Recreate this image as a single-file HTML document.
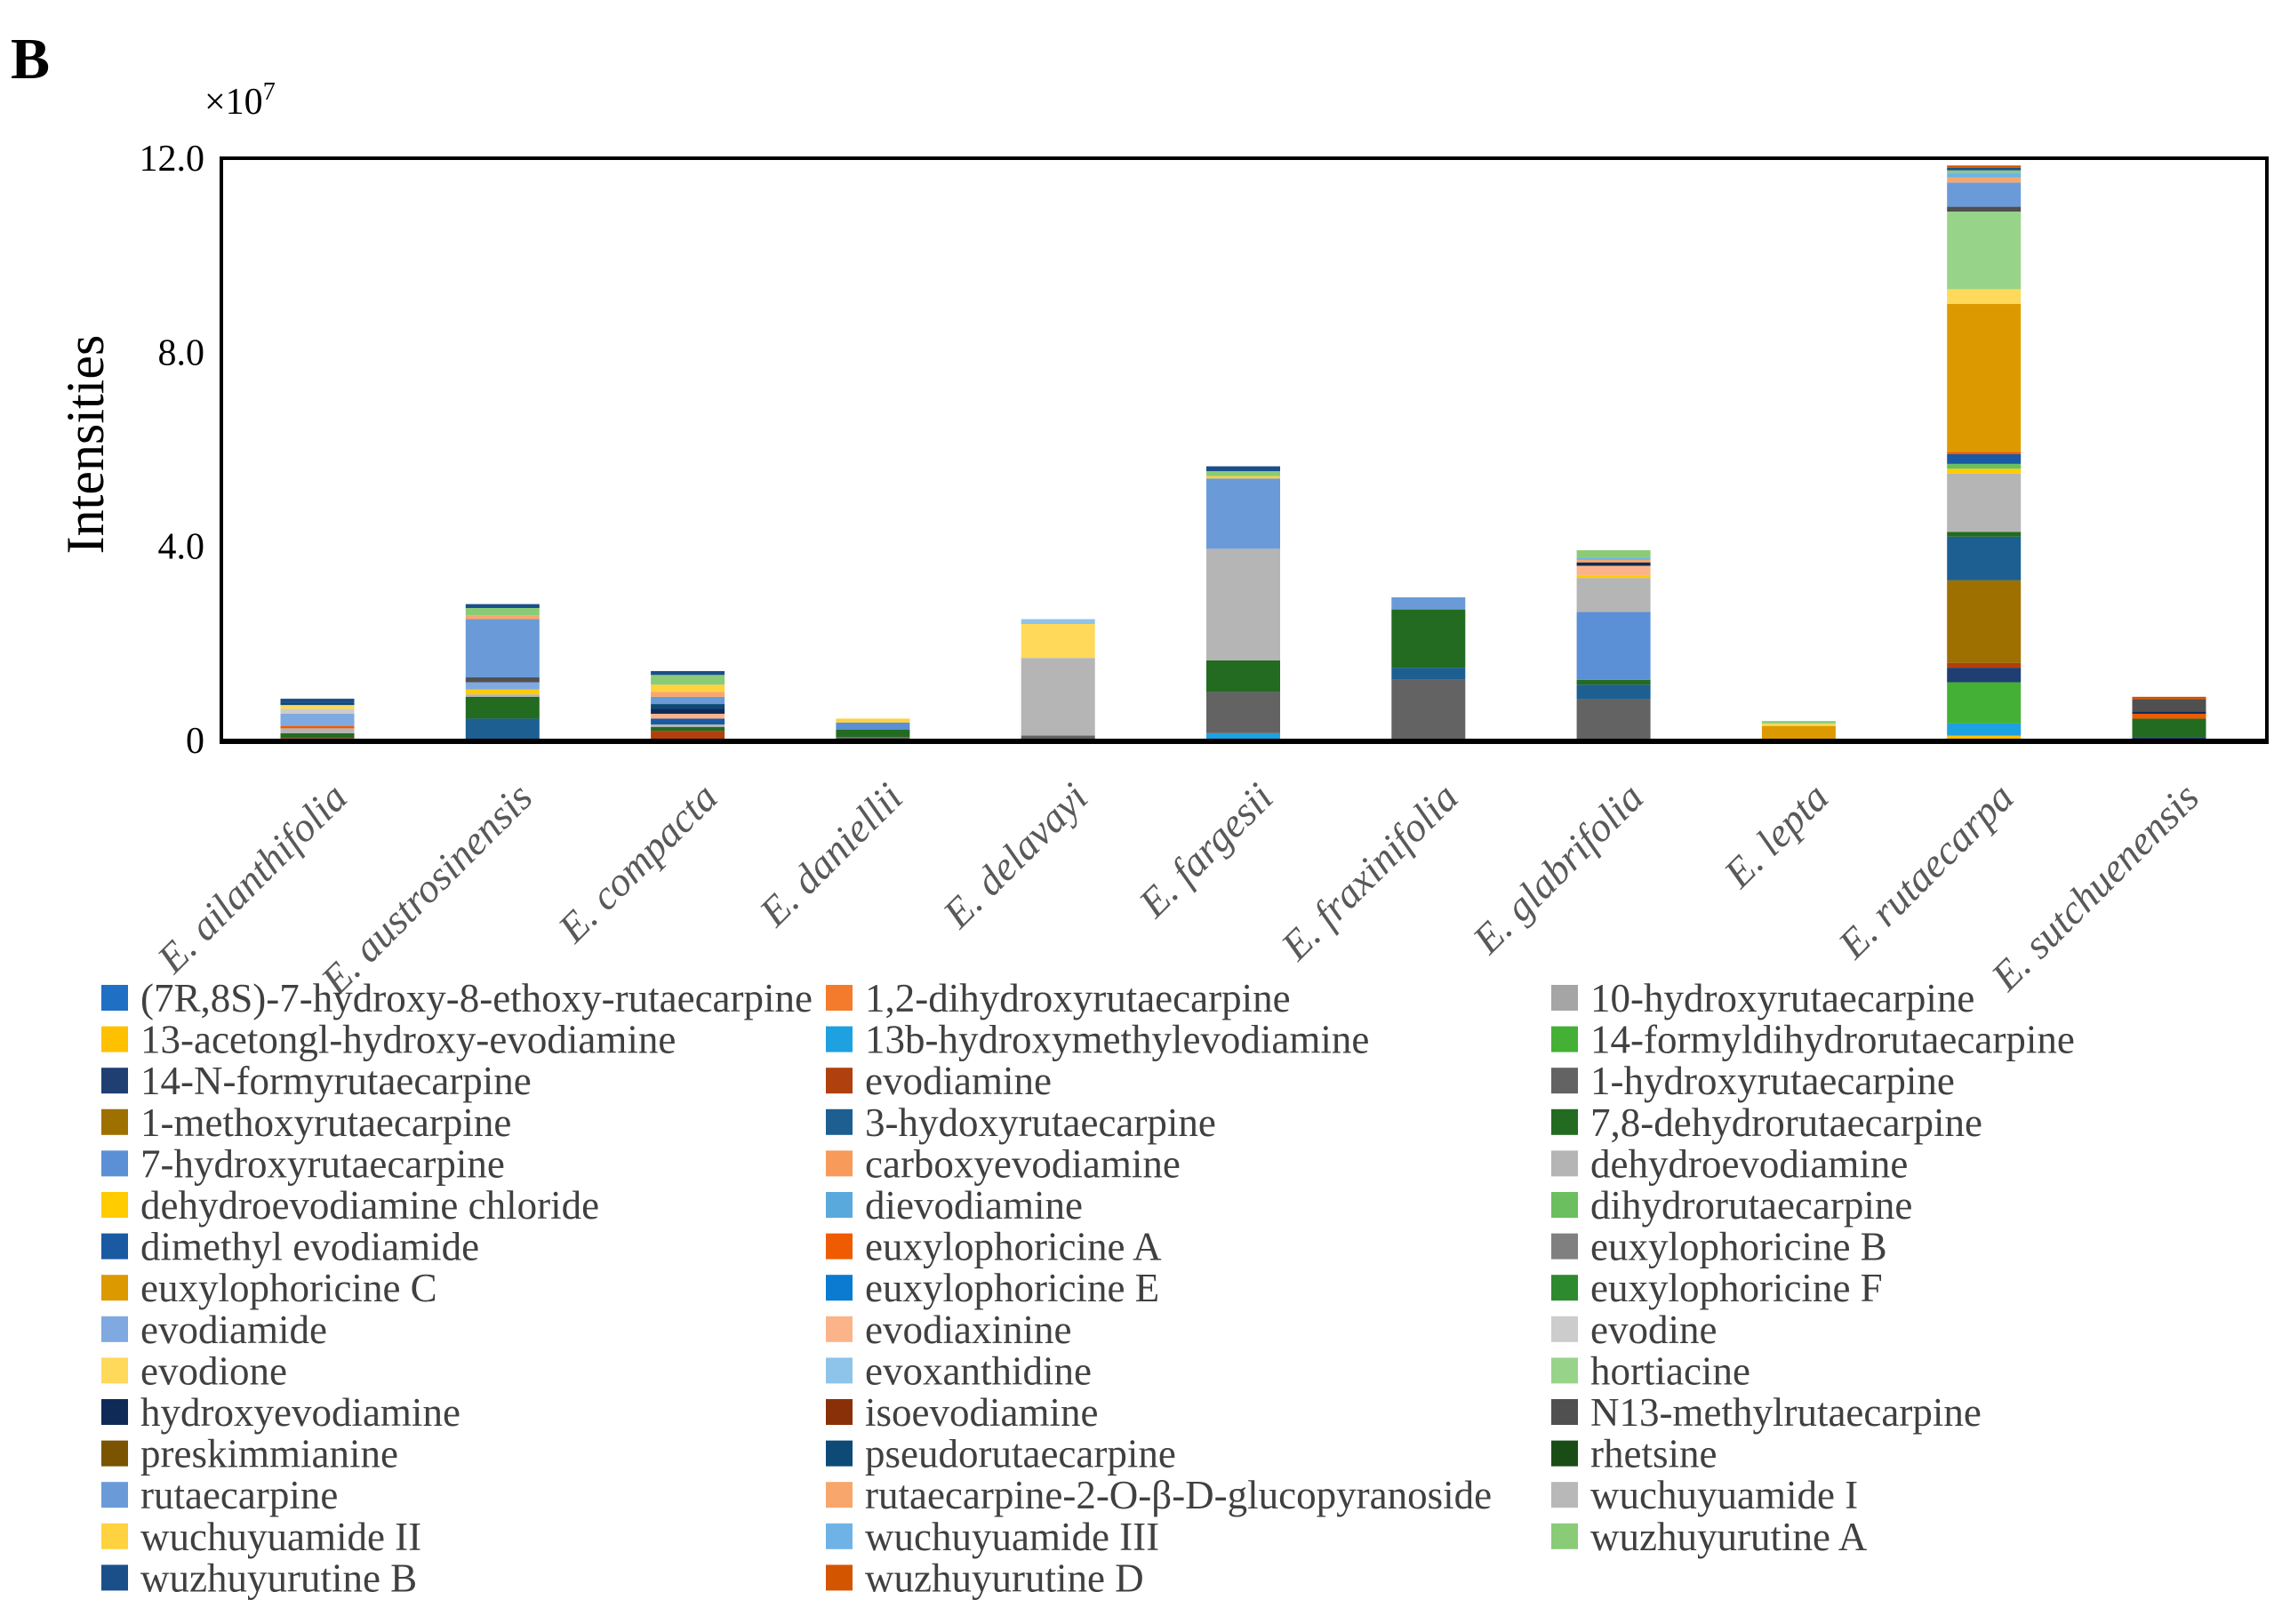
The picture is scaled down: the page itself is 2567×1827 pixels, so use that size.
<!DOCTYPE html>
<html><head><meta charset="utf-8"><style>
html,body{margin:0;padding:0;background:#fff;}
svg{display:block;font-family:"Liberation Serif",serif;}
</style></head><body>
<svg id="chart" width="2567" height="1827" viewBox="0 0 2567 1827">
<text x="12" y="88" font-size="66" font-weight="bold">B</text>
<text x="230" y="128" font-size="42">×10<tspan font-size="28" dy="-16">7</tspan></text>
<text transform="translate(116,500) rotate(-90)" text-anchor="middle" font-size="60">Intensities</text>
<g id="bars"></g>
<g id="axes"></g>
<g id="legend"></g>
</svg>
<script>
const categories = ["E. ailanthifolia","E. austrosinensis","E. compacta","E. daniellii","E. delavayi","E. fargesii","E. fraxinifolia","E. glabrifolia","E. lepta","E. rutaecarpa","E. sutchuenensis"];
const seriesNames = ["(7R,8S)-7-hydroxy-8-ethoxy-rutaecarpine","1,2-dihydroxyrutaecarpine","10-hydroxyrutaecarpine","13-acetongl-hydroxy-evodiamine","13b-hydroxymethylevodiamine","14-formyldihydrorutaecarpine","14-N-formyrutaecarpine","evodiamine","1-hydroxyrutaecarpine","1-methoxyrutaecarpine","3-hydoxyrutaecarpine","7,8-dehydrorutaecarpine","7-hydroxyrutaecarpine","carboxyevodiamine","dehydroevodiamine","dehydroevodiamine chloride","dievodiamine","dihydrorutaecarpine","dimethyl evodiamide","euxylophoricine A","euxylophoricine B","euxylophoricine C","euxylophoricine E","euxylophoricine F","evodiamide","evodiaxinine","evodine","evodione","evoxanthidine","hortiacine","hydroxyevodiamine","isoevodiamine","N13-methylrutaecarpine","preskimmianine","pseudorutaecarpine","rhetsine","rutaecarpine","rutaecarpine-2-O-β-D-glucopyranoside","wuchuyuamide I","wuchuyuamide II","wuchuyuamide III","wuzhuyurutine A","wuzhuyurutine B","wuzhuyurutine D"];
const seriesColors = ["#1f6fc5","#f47b2b","#a5a5a5","#ffc000","#1ea1e0","#44b035","#1f3f73","#b0400e","#636363","#9e7000","#1d5f91","#236b20","#5b8fd6","#f79a5a","#b5b5b5","#ffcc00","#5aa9dc","#6bbf5e","#1a5aa3","#ef5b00","#808080","#dd9a00","#0a7bd0","#2e8a2e","#7fa9e0","#fbb48a","#cccccc","#ffd95a","#8ec4ea","#97d48a","#0f2a57","#8a3008","#505050","#7a5400","#0d4a75","#1a4d16","#6a9bd8","#f9a66c","#b8b8b8","#ffd23f","#6fb3e6","#8acb78","#1b4f8a","#d45500"];
// values (x10^7) per category, listed as [seriesIndex, value] pairs, stacked in legend order
const valuesAilanthifolia = [[7,0.05],[11,0.1],[14,0.1],[19,0.05],[24,0.25],[26,0.1],[27,0.08],[34,0.05],[42,0.08]];
const valuesAustrosinensis = [[10,0.45],[11,0.45],[14,0.05],[15,0.1],[24,0.15],[32,0.1],[36,1.2],[37,0.08],[41,0.15],[42,0.08]];
const valuesCompacta = [[7,0.2],[11,0.08],[14,0.05],[18,0.12],[25,0.1],[30,0.1],[34,0.1],[36,0.15],[37,0.1],[39,0.15],[41,0.2],[42,0.08]];
const valuesDaniellii = [[8,0.07],[11,0.15],[12,0.15],[39,0.08]];
const valuesDelavayi = [[8,0.1],[14,1.6],[27,0.7],[28,0.1]];
const valuesFargesii = [[4,0.15],[8,0.85],[11,0.65],[14,2.3],[36,1.45],[39,0.05],[41,0.1],[42,0.1]];
const valuesFraxinifolia = [[8,1.25],[10,0.25],[11,1.2],[36,0.25]];
const valuesGlabrifolia = [[8,0.85],[10,0.3],[11,0.1],[12,1.4],[14,0.7],[15,0.05],[25,0.2],[30,0.07],[37,0.05],[40,0.05],[41,0.15]];
const valuesLepta = [[21,0.3],[27,0.05],[41,0.05]];
const valuesRutaecarpa = [[3,0.1],[4,0.25],[5,0.85],[6,0.3],[7,0.1],[9,1.7],[10,0.9],[11,0.1],[14,1.2],[15,0.1],[17,0.1],[18,0.2],[19,0.05],[21,3.05],[27,0.3],[29,1.6],[32,0.1],[36,0.5],[37,0.1],[40,0.1],[41,0.05],[42,0.05],[43,0.05]];
const valuesSutchuenensis = [[6,0.07],[11,0.38],[19,0.1],[30,0.05],[32,0.25],[43,0.05]];
const yTicks = [0,4,8,12];
const yTickLabels = ["0","4.0","8.0","12.0"];

const allValues = [valuesAilanthifolia,valuesAustrosinensis,valuesCompacta,valuesDaniellii,valuesDelavayi,valuesFargesii,valuesFraxinifolia,valuesGlabrifolia,valuesLepta,valuesRutaecarpa,valuesSutchuenensis];
const NS="http://www.w3.org/2000/svg";
const PL=249, PR=2550, PT=178, PB=833, YMAX=12;
const BW=83, X0=357, DX=208.3;
function yScale(v){return PB-(v/YMAX)*(PB-PT);}
function xScale(i){return X0+i*DX;}
function mk(tag,attrs,parent){const e=document.createElementNS(NS,tag);for(const k in attrs)e.setAttribute(k,attrs[k]);parent.appendChild(e);return e;}
const bars=document.getElementById('bars'), axes=document.getElementById('axes'), legend=document.getElementById('legend');

allValues.forEach((vals,ci)=>{
  const sorted=vals.slice().sort((a,b)=>a[0]-b[0]);
  let cum=0;
  sorted.forEach(([si,v])=>{
    const r=mk('rect',{x:xScale(ci)-BW/2,y:yScale(cum+v),width:BW,height:yScale(cum)-yScale(cum+v),fill:seriesColors[si]},bars);
    
    
    cum+=v;
  });
  const t=mk('text',{transform:`translate(${xScale(ci)+36},900) rotate(-45)`,'text-anchor':'end','font-size':46,'font-style':'italic',fill:'#595959'},axes);
  t.textContent=categories[ci];
  
  
});

const frame=mk('rect',{x:PL,y:PT,width:PR-PL,height:PB-PT,fill:'none',stroke:'#000','stroke-width':4},axes);


const xl=mk('line',{x1:PL-2,y1:PB+1,x2:PR+2,y2:PB+1,stroke:'#000','stroke-width':6},axes);


yTicks.forEach((v,i)=>{
  const t=mk('text',{x:230,y:yScale(v)+14,'text-anchor':'end','font-size':42},axes);
  t.textContent=yTickLabels[i];
  
  
});

const colX=[114,929,1745], rowY0=1123, rowDY=46.6;
seriesNames.forEach((name,i)=>{
  const c=i%3, r=Math.floor(i/3);
  const g=mk('g',{},legend);
  
  
  const sq=mk('rect',{x:colX[c],y:rowY0+r*rowDY-15,width:30,height:29,fill:seriesColors[i]},g);
  
  
  const t=mk('text',{x:colX[c]+44,y:rowY0+r*rowDY+15,'font-size':45,fill:'#404040'},g);
  t.textContent=name;
  
  
});
</script>
</body></html>
